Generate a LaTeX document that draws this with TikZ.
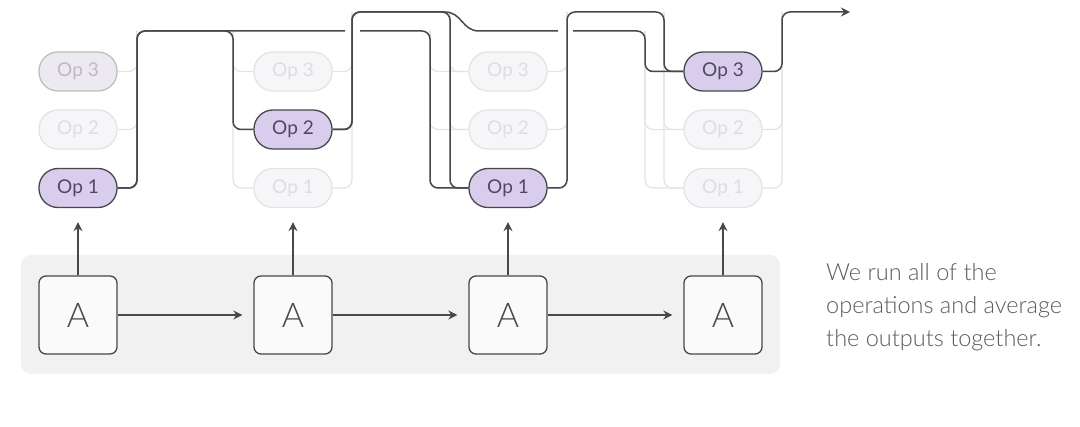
\documentclass[tikz,border=0pt]{standalone}
\usepackage{fontspec}
\setmainfont{Lato}
\newfontfamily\thinfont{Lato Light}
\usetikzlibrary{arrows.meta,backgrounds}
\definecolor{edgedark}{RGB}{72,72,76}
\definecolor{oppurple}{RGB}{216,205,236}
\definecolor{optext}{RGB}{80,74,96}
\definecolor{faintline}{RGB}{228,228,230}
\definecolor{faintfill}{RGB}{246,246,248}
\definecolor{fainttext}{RGB}{222,222,226}
\definecolor{dimline}{RGB}{190,190,194}
\definecolor{dimfill}{RGB}{236,234,240}
\definecolor{dimtext}{RGB}{190,186,196}
\definecolor{cellfill}{RGB}{250,250,251}
\definecolor{bandgrey}{RGB}{241,241,242}
\definecolor{notetext}{RGB}{90,90,92}
\tikzset{
  opbox/.style={rounded corners=19pt,minimum width=78pt,minimum height=39pt,
                inner sep=0pt,line width=1.3pt,font=\fontsize{19}{19}\selectfont},
  opon/.style={opbox,draw=edgedark,fill=oppurple,text=optext},
  opoff/.style={opbox,draw=faintline,fill=faintfill,text=fainttext},
  opdim/.style={opbox,draw=dimline,fill=dimfill,text=dimtext},
  cellbox/.style={draw=edgedark,fill=cellfill,rounded corners=7pt,minimum size=78pt,
                  inner sep=0pt,line width=1.3pt,text=edgedark,
                  font=\thinfont\fontsize{34}{34}\selectfont},
  flow/.style={draw=edgedark,line width=1.5pt,rounded corners=8pt},
  faintflow/.style={draw=faintline,line width=1.3pt,rounded corners=8pt},
  feed/.style={-{Stealth[length=9pt,width=9pt]},draw=edgedark,line width=1.4pt},
}

\begin{document}
\begin{tikzpicture}[x=1pt,y=-1pt]
  \useasboundingbox (0,0) rectangle (1080,427);
  \fill[bandgrey,rounded corners=10pt] (21,255) rectangle (780,374);
  % cells and their candidate operations
  \foreach \col/\x/\sel in {1/78/1,2/293/2,3/508/1,4/723/3}{
    \node[cellbox] (a\col) at (\x,315) {A};
    \foreach \k/\y in {3/71.5,2/129.5,1/188}{
      \ifnum\k=\sel \def\opstyle{opon}\else\def\opstyle{opoff}\fi
      \ifnum\col\k=13 \def\opstyle{opdim}\fi
      \node[\opstyle] (o\col\k) at (\x,\y) {Op \k};
    }
  }
  % unused routes
  \begin{scope}[on background layer]
    \foreach \col/\lx/\ty in {2/233/31,3/430/31,3/450/12,4/645/31,4/664/12}
      \foreach \k in {1,2,3}
        {\draw[faintflow] (\lx,\ty) |- (o\col\k.west);}
    \foreach \col/\lx/\ty in {1/137/31,2/352/12,3/567/12,4/782/12}
      \foreach \k in {1,2,3}
        {\draw[faintflow] (o\col\k.east) -| (\lx,\ty);}
  \end{scope}
  % chosen routes
  \draw[flow] (o11.east) -- (137,188) -- (137,31) -- (233,31) -- (233,129.5) -- (o22.west);
  \draw[flow] (o11.east) -- (137,188) -- (137,31) -- (345,31)
              (360,31) -- (430,31) -- (430,188) -- (o31.west);
  \draw[flow] (o22.east) -- (352,129.5) -- (352,12) -- (450,12) -- (450,188) -- (o31.west);
  \draw[flow] (o22.east) -- (352,129.5) -- (352,12) -- (437,12)
              .. controls (462,12) and (462,31) .. (487,31) -- (558,31)
              (573,31) -- (645,31) -- (645,71.5) -- (o43.west);
  \draw[flow] (o31.east) -- (567,188) -- (567,12) -- (664,12) -- (664,71.5) -- (o43.west);
  \coordinate (out) at (850,12);
  \draw[flow,-{Stealth[length=9pt,width=9pt]}] (o43.east) -- (782,71.5) -- (782,12) -- (out);
  % cell inputs and the chain
  \foreach \col in {1,...,4}
    {\draw[feed,shorten >=14pt] (a\col) -- (o\col1);}
  \foreach \col/\nxt in {1/2,2/3,3/4}
    {\draw[feed,shorten >=11pt] (a\col) -- (a\nxt);}
  \node[anchor=north west,align=left,text=notetext,inner sep=0pt,
        font=\thinfont\fontsize{23.5}{33}\selectfont] (note) at (826,263)
    {We run all of the\\operations and average\\the outputs together.};
\end{tikzpicture}
\end{document}
